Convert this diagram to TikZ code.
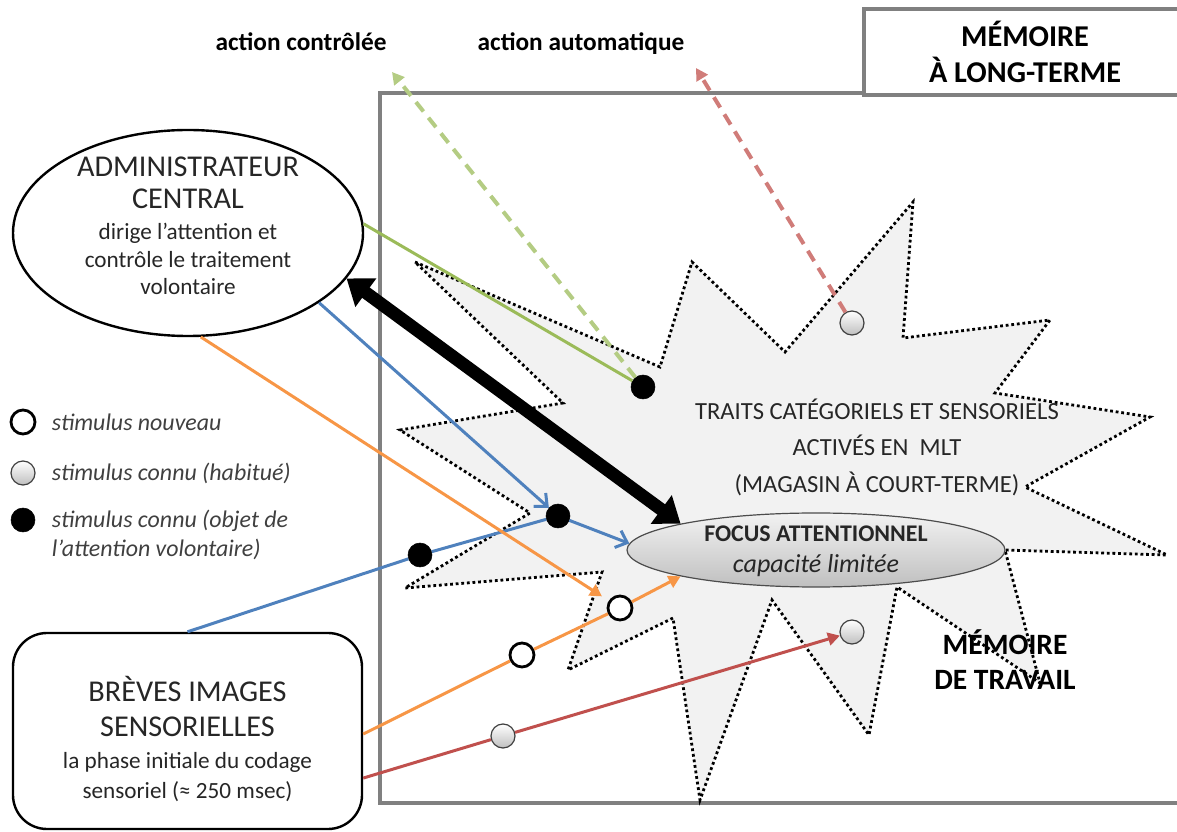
\documentclass[tikz,border=0pt]{standalone}
\usepackage{fontspec}
\setmainfont{Carlito}
\usetikzlibrary{arrows.meta,shapes.geometric}

\definecolor{offblue}{HTML}{4F81BD}
\definecolor{offred}{HTML}{C0504D}
\definecolor{offgreen}{HTML}{9BBB59}
\definecolor{offorange}{HTML}{F79646}
\definecolor{boxgray}{HTML}{808080}
\definecolor{starfill}{HTML}{F2F2F2}
\definecolor{txtgray}{HTML}{404040}

\newcommand{\bigf}{\fontsize{21.5}{24}\selectfont}

\tikzset{
	conn/.style={line width=0.75mm},
	dasharr/.style={line width=1mm, dash pattern=on 3mm off 2mm, ->},
	bluearr/.style={conn, offblue, -{Straight Barb[length=2.5mm,width=4.5mm]}},
	biga/.style={line width=3.2mm, {Triangle[length=6mm,width=8.5mm]}-{Triangle[length=6mm,width=8.5mm]}},
	stim/.style={circle, minimum size=6mm, inner sep=0pt},
	newstim/.style={stim, draw=black, line width=0.7mm, fill=white},
	knownstim/.style={stim, draw=black!75, line width=0.3mm, top color=white, bottom color=black!25},
	attstim/.style={stim, draw=black, fill=black},
	legtext/.style={anchor=west, text=txtgray, font=\itshape\fontsize{17}{21}\selectfont},
}

\begin{document}
\begin{tikzpicture}[x=0.25mm, y=-0.25mm, >={Triangle[length=3mm,width=3.2mm]}]
	\useasboundingbox (0,0) rectangle (1177,832);
	
	% cadre memoire de travail
	\draw[boxgray, line width=1.1mm] (1190,803) -- (380,803) -- (380,93) -- (865,93);
	
	% traits actives (etoile)
	\draw[fill=starfill, line width=0.7mm, dotted] (415,262) -- (660,367) -- (692,262) -- (785,352)
		-- (913,202) -- (903,338) -- (1050,320) -- (995,393) -- (1150,417) -- (1025,487)
		-- (1167,555) -- (1005,550) -- (1040,683) -- (897,587) -- (869,735) -- (772,600)
		-- (700,800) -- (673,618) -- (568,670) -- (602,572) -- (405,588) -- (530,513)
		-- (400,430) -- (563,403) -- cycle;
	
	\node[draw=boxgray, line width=1.1mm, fill=white, minimum width=80.5mm, minimum height=21.5mm,
		align=center, font=\bfseries\fontsize{21.5}{24}\selectfont] (mlt) at (1025,52) {MÉMOIRE\\[2pt]À LONG-TERME};
	
	\node[font=\bfseries\fontsize{18}{20}\selectfont, anchor=base] (lblctrl) at (301,51) {action contrôlée};
	\node[font=\bfseries\fontsize{18}{20}\selectfont, anchor=base] (lblauto) at (581,51) {action automatique};
	
	\node[ellipse, draw, line width=0.6mm, minimum width=87.5mm, minimum height=51.5mm] (admin) at (188,233) {};
	\node[align=center, text=black!85, font=\fontsize{16.5}{19.5}\selectfont] (admintxt) at (188,226)
		{{\bigf ADMINISTRATEUR}\\[3pt]{\bigf CENTRAL}\\[3pt]dirige l’attention et\\contrôle le traitement\\volontaire};
	
	\node[draw, line width=0.6mm, rounded corners=8.5mm, minimum width=87.25mm, minimum height=49mm] (breves) at (187.5,731) {};
	\node[align=center, text=black!85, font=\fontsize{16.5}{21}\selectfont] (brevestxt) at (187.5,739)
		{{\bigf BRÈVES IMAGES}\\[4pt]{\bigf SENSORIELLES}\\[2pt]la phase initiale du codage\\sensoriel (≈ 250 msec)};
	
	\node[align=center, text=black!85, font=\fontsize{17.5}{26}\selectfont] (traits) at (877,447)
		{TRAITS CATÉGORIELS ET SENSORIELS\\ACTIVÉS EN \ MLT\\(MAGASIN À COURT-TERME)};
	
	\node[ellipse, draw=black!70, line width=0.3mm, top color=black!5, bottom color=black!25,
		minimum width=94.5mm, minimum height=18.5mm] (focus) at (816,550) {};
	\node[align=center, text=black!85, font=\fontsize{17}{22}\selectfont] (focustxt) at (816,551)
		{{\bfseries FOCUS ATTENTIONNEL}\\{\itshape\fontsize{18.5}{22}\selectfont capacité limitée}};
	
	\node[align=center, font=\bfseries\fontsize{21}{25}\selectfont] (travail) at (1005,660) {MÉMOIRE\\DE TRAVAIL};
	
	% legende
	\node[newstim] (legnew) at (23,422) {};
	\node[knownstim] (legknown) at (23,473) {};
	\node[attstim] (legatt) at (23,520) {};
	\node[legtext] (legnewtxt) at (47,422) {stimulus nouveau};
	\node[legtext] (legknowntxt) at (47,473) {stimulus connu (habitué)};
	\node[legtext, align=left] (legatttxt) at (47,535) {stimulus connu (objet de\\l’attention volontaire)};
	
	% stimuli
	\node[attstim] (attA) at (420,555) {};
	\node[attstim] (attB) at (558,516) {};
	\node[attstim] (attC) at (643,387) {};
	\node[newstim] (newA) at (522,655) {};
	\node[newstim] (newB) at (620,608) {};
	\node[knownstim] (knownA) at (503,736) {};
	\node[knownstim] (knownB) at (852,632) {};
	\node[knownstim] (knownC) at (852,323) {};
	
	\coordinate (ctrltip) at (392,72);
	\coordinate (autotip) at (696,68);
	
	% connexions
	\draw[conn, offgreen] (admin.3) -- (attC);
	\draw[dasharr, offgreen!75] (attC) -- (ctrltip);
	\draw[dasharr, offred!75] (knownC) -- (autotip);
	\draw[biga] (admin.-16) -- (focus.169);
	\draw[bluearr] (admin.-28) -- (attB);
	\draw[bluearr] (attB) -- (focus.178);
	\draw[conn, offblue] (breves.north) -- (attA) -- (attB);
	\draw[conn, offorange, ->, shorten >=2mm] (admin.-83) -- (newB);
	\draw[conn, offorange, ->] (breves.-1) -- (newA) -- (newB) -- (focus.191);
	\draw[conn, offred, ->] (breves.-15) -- (knownA) -- (knownB);
\end{tikzpicture}
\end{document}
